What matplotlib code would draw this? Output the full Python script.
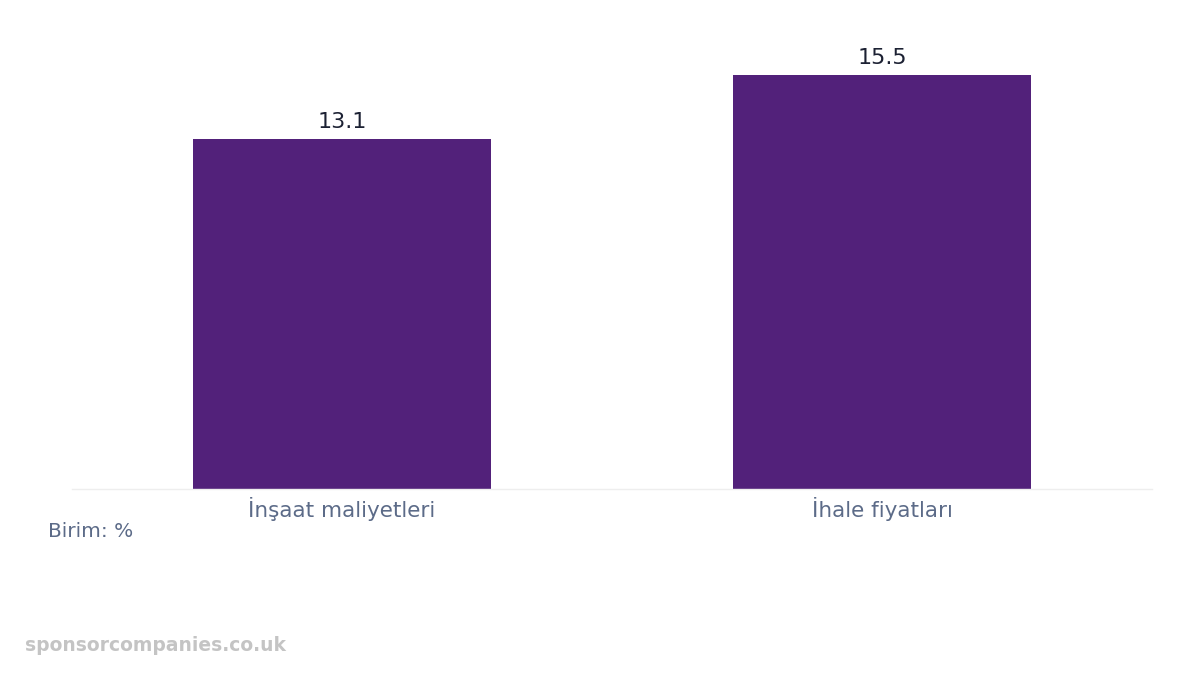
import matplotlib
matplotlib.use("Agg")
import matplotlib.pyplot as plt

plt.rcParams["font.family"] = ["DejaVu Sans"]

categories = ["İnşaat maliyetleri", "İhale fiyatları"]
values = [13.1, 15.5]

BAR_COLOR = "#52217a"
VALUE_COLOR = "#1c2133"
TICK_COLOR = "#5c6b88"

fig = plt.figure(figsize=(12, 6.75), dpi=100)
ax = fig.add_axes([0.06, 0.2756, 0.90, 0.68])

x = list(range(len(categories)))
bars = ax.bar(x, values, width=0.552, color=BAR_COLOR, zorder=2)
for rect, v in zip(bars, values):
    ax.annotate(f"{v}", (rect.get_x() + rect.get_width() / 2, v),
                xytext=(0, 5), textcoords="offset points",
                ha="center", va="bottom", fontsize=16, color=VALUE_COLOR)

ax.set_xlim(-0.5, 1.5)
ax.set_ylim(0, 17.2)
ax.set_xticks(x)
ax.set_xticklabels(categories, fontsize=15.5, color=TICK_COLOR)
ax.tick_params(axis="x", length=0, pad=6)
ax.set_yticks([])
for side in ["top", "right", "left"]:
    ax.spines[side].set_visible(False)
ax.spines["bottom"].set_color("#eeeeee")
ax.spines["bottom"].set_linewidth(1)

fig.text(0.04, 0.213, "Birim: %", fontsize=14.5, color=TICK_COLOR, va="center")
fig.text(0.021, 0.043, "sponsorcompanies.co.uk", fontsize=13.5, fontweight="bold",
         color="#c4c4c4", va="center")

fig.savefig("out.png", dpi=100)
